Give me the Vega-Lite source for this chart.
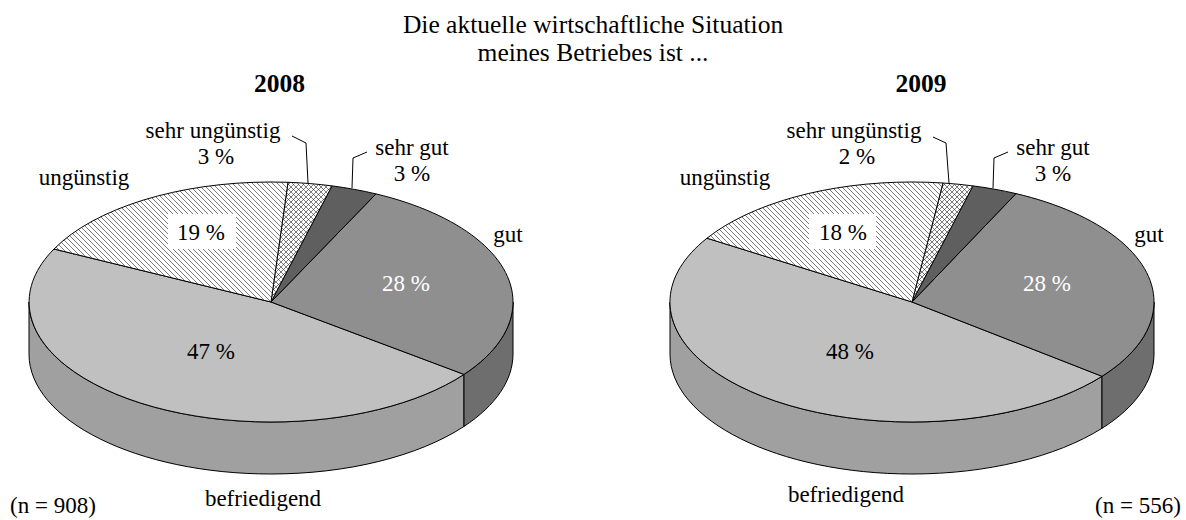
{"$schema":"https://vega.github.io/schema/vega-lite/v6.json","width":1186,"height":520,"padding":0,"autosize":{"type":"fit","contains":"padding"},"background":"white","config":{"view":{"stroke":null},"text":{"font":"Liberation Serif","fontSize":23}},
"datasets":{
"slices":[
{"year":2008,"slice":"befriedigend","percent":47,"id":"2008 befriedigend"},
{"year":2008,"slice":"gut","percent":28,"id":"2008 gut"},
{"year":2008,"slice":"sehr gut","percent":3,"id":"2008 sehr gut"},
{"year":2008,"slice":"sehr ungünstig","percent":3,"id":"2008 sehr ungünstig"},
{"year":2008,"slice":"ungünstig","percent":19,"id":"2008 ungünstig"},
{"year":2009,"slice":"befriedigend","percent":48,"id":"2009 befriedigend"},
{"year":2009,"slice":"gut","percent":28,"id":"2009 gut"},
{"year":2009,"slice":"sehr gut","percent":3,"id":"2009 sehr gut"},
{"year":2009,"slice":"sehr ungünstig","percent":2,"id":"2009 sehr ungünstig"},
{"year":2009,"slice":"ungünstig","percent":18,"id":"2009 ungünstig"}],
"labels":[
{"text":"Die aktuelle wirtschaftliche Situation","x":593,"y":24.5,"kind":"title"},
{"text":"meines Betriebes ist ...","x":593,"y":52.5,"kind":"title"},
{"text":"2008","x":279.5,"y":83.5,"kind":"heading"},
{"text":"2009","x":921,"y":83.5,"kind":"heading"},
{"text":"sehr ungünstig","x":213,"y":131,"kind":"plain"},
{"text":"3 %","x":216,"y":156.5,"kind":"plain"},
{"text":"ungünstig","x":84,"y":178,"kind":"plain"},
{"text":"19 %","x":201,"y":233,"kind":"plain"},
{"text":"sehr gut","x":412,"y":148,"kind":"plain"},
{"text":"3 %","x":412,"y":174,"kind":"plain"},
{"text":"gut","x":508,"y":235,"kind":"plain"},
{"text":"28 %","x":406,"y":284,"kind":"inverse"},
{"text":"47 %","x":211,"y":352,"kind":"plain"},
{"text":"befriedigend","x":263,"y":499,"kind":"plain"},
{"text":"(n = 908)","x":53,"y":506,"kind":"plain"},
{"text":"sehr ungünstig","x":854,"y":131,"kind":"plain"},
{"text":"2 %","x":857,"y":156.5,"kind":"plain"},
{"text":"ungünstig","x":725,"y":178,"kind":"plain"},
{"text":"18 %","x":843,"y":233,"kind":"plain"},
{"text":"sehr gut","x":1053,"y":148,"kind":"plain"},
{"text":"3 %","x":1053,"y":174,"kind":"plain"},
{"text":"gut","x":1149,"y":235,"kind":"plain"},
{"text":"28 %","x":1047,"y":284,"kind":"inverse"},
{"text":"48 %","x":850,"y":352,"kind":"plain"},
{"text":"befriedigend","x":846,"y":495,"kind":"plain"},
{"text":"(n = 556)","x":1138,"y":506,"kind":"plain"}],
"leaders":[
{"leader":"a","step":1,"x":292,"y":136},{"leader":"a","step":2,"x":306,"y":143},{"leader":"a","step":3,"x":308,"y":183},
{"leader":"b","step":1,"x":367,"y":152},{"leader":"b","step":2,"x":353,"y":158},{"leader":"b","step":3,"x":352,"y":188},
{"leader":"c","step":1,"x":933,"y":137},{"leader":"c","step":2,"x":946,"y":143},{"leader":"c","step":3,"x":949,"y":183},
{"leader":"d","step":1,"x":1008,"y":152},{"leader":"d","step":2,"x":994,"y":158},{"leader":"d","step":3,"x":993,"y":188}],
"boxes":[
{"x1":168,"x2":236,"y1":214,"y2":249},
{"x1":809,"x2":876,"y1":214,"y2":249}]
},
"resolve":{"scale":{"x":"independent","y":"independent","shape":"independent","fill":"independent"}},
"layer":[
{"data":{"name":"slices"},"transform":[{"filter":"datum.slice==='gut'||datum.slice==='befriedigend'"}],
"mark":{"type":"point","filled":true,"stroke":"#000","strokeWidth":1,"size":4,"opacity":1},
"encoding":{
"x":{"field":"year","type":"ordinal","axis":null,"scale":{"type":"point","padding":0,"domain":[2008,2009],"range":[271,912]}},
"y":{"field":"year","type":"ordinal","axis":null,"scale":{"type":"point","padding":0,"domain":[2008,2009],"range":[302,302]}},
"fill":{"field":"slice","type":"nominal","legend":null,"scale":{"domain":["gut","befriedigend"],"range":["#6e6e6e","#a0a0a0"]}},
"shape":{"field":"id","type":"nominal","legend":null,"scale":{"domain":["2008 gut","2008 befriedigend","2009 gut","2009 befriedigend"],"range":[
"M193 72.4A242 120 0 0 0 242 0L242 52A242 120 0 0 1 193 124.4Z",
"M193 72.4A242 120 0 0 1 0 120A242 120 0 0 1 -242 0L-242 52A242 120 0 0 0 0 172A242 120 0 0 0 193 124.4Z",
"M190 74.3A242 120 0 0 0 242 0L242 52A242 120 0 0 1 190 126.3Z",
"M190 74.3A242 120 0 0 1 0 120A242 120 0 0 1 -242 0L-242 52A242 120 0 0 0 0 172A242 120 0 0 0 190 126.3Z"]}}}},
{"data":{"name":"slices"},
"mark":{"type":"point","filled":true,"stroke":"#000","strokeWidth":1,"size":4,"opacity":1},
"encoding":{
"x":{"field":"year","type":"ordinal","axis":null,"scale":{"type":"point","padding":0,"domain":[2008,2009],"range":[271,912]}},
"y":{"field":"year","type":"ordinal","axis":null,"scale":{"type":"point","padding":0,"domain":[2008,2009],"range":[302,302]}},
"fill":{"field":"slice","type":"nominal","legend":null,"scale":{"domain":["befriedigend","gut","sehr gut","sehr ungünstig","ungünstig"],"range":["#c0c0c0","#8f8f8f","#5f5f5f","#ffffff","#ffffff"]}},
"shape":{"field":"id","type":"nominal","legend":null,"scale":{"domain":["2008 befriedigend","2008 gut","2008 sehr gut","2008 sehr ungünstig","2008 ungünstig","2009 befriedigend","2009 gut","2009 sehr gut","2009 sehr ungünstig","2009 ungünstig"],"range":[
"M0 0L193 72.4A242 120 0 0 1 0 120A242 120 0 0 1 -217 -53Z",
"M0 0L105 -108.1A242 120 0 0 1 242 0A242 120 0 0 1 193 72.4Z",
"M0 0L61 -116.1A242 120 0 0 1 105 -108.1Z",
"M0 0L17 -119.7A242 120 0 0 1 61 -116.1Z",
"M0 0L-217 -53A242 120 0 0 1 0 -120A242 120 0 0 1 17 -119.7Z",
"M0 0L190 74.3A242 120 0 0 1 0 120A242 120 0 0 1 -205 -63.8Z",
"M0 0L104 -108.4A242 120 0 0 1 242 0A242 120 0 0 1 190 74.3Z",
"M0 0L61 -116.1A242 120 0 0 1 104 -108.4Z",
"M0 0L31 -119A242 120 0 0 1 61 -116.1Z",
"M0 0L-205 -63.8A242 120 0 0 1 0 -120A242 120 0 0 1 31 -119Z"]}}}},
{"data":{"name":"slices"},"transform":[{"filter":"datum.slice==='ungünstig'||datum.slice==='sehr ungünstig'"}],
"mark":{"type":"point","filled":false,"stroke":"#222","strokeWidth":0.6,"size":4,"opacity":1},
"encoding":{
"x":{"field":"year","type":"ordinal","axis":null,"scale":{"type":"point","padding":0,"domain":[2008,2009],"range":[271,912]}},
"y":{"field":"year","type":"ordinal","axis":null,"scale":{"type":"point","padding":0,"domain":[2008,2009],"range":[302,302]}},
"shape":{"field":"id","type":"nominal","legend":null,"scale":{"domain":["2008 ungünstig","2009 ungünstig","2008 sehr ungünstig","2009 sehr ungünstig"],"range":[
"M15.2 -119.8L16.9 -118.1M10.1 -119.9L16.3 -113.8M5.1 -119.9L15.6 -109.4M0 -120L15 -105M-5 -120L14.4 -100.6M-9.9 -119.9L13.8 -96.3M-14.8 -119.8L13.1 -91.9M-19.6 -119.6L12.5 -87.5M-24.4 -119.4L11.9 -83.1M-29.1 -119.1L11.3 -78.8M-33.8 -118.8L10.6 -74.4M-38.4 -118.4L10 -70M-43.1 -118.1L9.4 -65.6M-47.7 -117.7L8.8 -61.3M-52.2 -117.2L8.1 -56.9M-56.7 -116.7L7.5 -52.5M-61.1 -116.1L6.9 -48.1M-65.5 -115.5L6.3 -43.8M-69.9 -114.9L5.6 -39.4M-74.2 -114.2L5 -35M-78.5 -113.5L4.4 -30.6M-82.8 -112.8L3.8 -26.3M-87 -112L3.1 -21.9M-91.2 -111.2L2.5 -17.5M-95.3 -110.3L1.9 -13.1M-99.4 -109.4L1.3 -8.8M-103.5 -108.5L0.6 -4.4M-107.5 -107.5L0 0M-111.5 -106.5L-6.6 -1.6M-115.5 -105.5L-13.2 -3.2M-119.4 -104.4L-19.7 -4.7M-123.3 -103.3L-26.3 -6.3M-127.1 -102.1L-32.9 -7.9M-130.9 -100.9L-39.5 -9.5M-134.7 -99.7L-46 -11M-138.5 -98.5L-52.6 -12.6M-142.1 -97.1L-59.2 -14.2M-145.8 -95.8L-65.8 -15.8M-149.4 -94.4L-72.3 -17.3M-153 -93L-78.9 -18.9M-156.5 -91.5L-85.5 -20.5M-160 -90L-92.1 -22.1M-163.5 -88.5L-98.6 -23.6M-166.9 -86.9L-105.2 -25.2M-170.2 -85.2L-111.8 -26.8M-173.6 -83.6L-118.4 -28.4M-176.9 -81.9L-124.9 -29.9M-180.1 -80.1L-131.5 -31.5M-183.3 -78.3L-138.1 -33.1M-186.5 -76.5L-144.7 -34.7M-189.6 -74.6L-151.2 -36.2M-192.6 -72.6L-157.8 -37.8M-195.6 -70.6L-164.4 -39.4M-198.6 -68.6L-171 -41M-201.5 -66.5L-177.5 -42.5M-204.3 -64.3L-184.1 -44.1M-207.1 -62.1L-190.7 -45.7M-209.8 -59.8L-197.3 -47.3M-212.5 -57.5L-203.8 -48.8M-215 -55L-210.4 -50.4",
"M25.7 -119.3L30 -115M20.5 -119.5L28.9 -111.1M15.2 -119.8L27.9 -107.1M10.1 -119.9L26.9 -103.1M5.1 -119.9L25.8 -99.2M0 -120L24.8 -95.2M-5 -120L23.8 -91.2M-9.9 -119.9L22.7 -87.3M-14.8 -119.8L21.7 -83.3M-19.6 -119.6L20.7 -79.3M-24.4 -119.4L19.6 -75.4M-29.1 -119.1L18.6 -71.4M-33.8 -118.8L17.6 -67.4M-38.4 -118.4L16.5 -63.5M-43.1 -118.1L15.5 -59.5M-47.7 -117.7L14.5 -55.5M-52.2 -117.2L13.4 -51.6M-56.7 -116.7L12.4 -47.6M-61.1 -116.1L11.4 -43.6M-65.5 -115.5L10.3 -39.7M-69.9 -114.9L9.3 -35.7M-74.2 -114.2L8.3 -31.7M-78.5 -113.5L7.2 -27.8M-82.8 -112.8L6.2 -23.8M-87 -112L5.2 -19.8M-91.2 -111.2L4.1 -15.9M-95.3 -110.3L3.1 -11.9M-99.4 -109.4L2.1 -7.9M-103.5 -108.5L1 -4M-107.5 -107.5L0 0M-111.5 -106.5L-7.3 -2.3M-115.5 -105.5L-14.5 -4.5M-119.4 -104.4L-21.8 -6.8M-123.3 -103.3L-29.1 -9.1M-127.1 -102.1L-36.3 -11.3M-130.9 -100.9L-43.6 -13.6M-134.7 -99.7L-50.9 -15.9M-138.5 -98.5L-58.1 -18.1M-142.1 -97.1L-65.4 -20.4M-145.8 -95.8L-72.7 -22.7M-149.4 -94.4L-79.9 -24.9M-153 -93L-87.2 -27.2M-156.5 -91.5L-94.5 -29.5M-160 -90L-101.7 -31.7M-163.5 -88.5L-109 -34M-166.9 -86.9L-116.3 -36.3M-170.2 -85.2L-123.5 -38.5M-173.6 -83.6L-130.8 -40.8M-176.9 -81.9L-138.1 -43.1M-180.1 -80.1L-145.4 -45.4M-183.3 -78.3L-152.6 -47.6M-186.5 -76.5L-159.9 -49.9M-189.6 -74.6L-167.2 -52.2M-192.6 -72.6L-174.4 -54.4M-195.6 -70.6L-181.7 -56.7M-198.6 -68.6L-189 -59M-201.5 -66.5L-196.2 -61.2",
"M1.3 -8.8L3.5 -6.6M1.9 -13.1L5.2 -9.8M2.5 -17.5L6.9 -13.1M3.1 -21.9L8.6 -16.4M3.8 -26.3L10.4 -19.7M4.4 -30.6L12.1 -22.9M5 -35L13.8 -26.2M5.6 -39.4L15.5 -29.5M6.3 -43.8L17.3 -32.8M6.9 -48.1L19 -36M7.5 -52.5L20.7 -39.3M8.1 -56.9L22.4 -42.6M8.8 -61.3L24.2 -45.9M9.4 -65.6L25.9 -49.1M10 -70L27.6 -52.4M10.6 -74.4L29.3 -55.7M11.3 -78.8L31.1 -59M11.9 -83.1L32.8 -62.2M12.5 -87.5L34.5 -65.5M13.1 -91.9L36.2 -68.8M13.8 -96.3L38 -72.1M14.4 -100.6L39.7 -75.3M15 -105L41.4 -78.6M15.6 -109.4L43.1 -81.9M16.3 -113.8L44.9 -85.2M16.9 -118.1L46.6 -88.4M20.5 -119.5L48.3 -91.7M25.7 -119.3L50 -95M31 -119L51.8 -98.3M36.4 -118.6L53.5 -101.5M41.8 -118.2L55.2 -104.8M47.4 -117.6L56.9 -108.1M52.9 -117.1L58.7 -111.4M58.6 -116.4L60.4 -114.6M0.8 -5.8L5.6 -10.6M1.7 -11.7L11.1 -21.1M2.5 -17.5L16.7 -31.7M3.3 -23.3L22.2 -42.2M4.2 -29.2L27.8 -52.8M5 -35L33.3 -63.3M5.8 -40.8L38.9 -73.9M6.7 -46.7L44.4 -84.4M7.5 -52.5L50 -95M8.3 -58.3L55.5 -105.5M9.2 -64.2L61 -116M10 -70L56.4 -116.4M10.8 -75.8L51.7 -116.7M11.7 -81.7L47 -117M12.5 -87.5L42.3 -117.3M13.3 -93.3L37.6 -117.6M14.2 -99.2L33 -118M15 -105L28.3 -118.3M15.8 -110.8L23.6 -118.6M16.7 -116.7L18.9 -118.9",
"M2.1 -7.9L3.5 -6.6M3.1 -11.9L5.2 -9.8M4.1 -15.9L6.9 -13.1M5.2 -19.8L8.6 -16.4M6.2 -23.8L10.4 -19.7M7.2 -27.8L12.1 -22.9M8.3 -31.7L13.8 -26.2M9.3 -35.7L15.5 -29.5M10.3 -39.7L17.3 -32.8M11.4 -43.6L19 -36M12.4 -47.6L20.7 -39.3M13.4 -51.6L22.4 -42.6M14.5 -55.5L24.2 -45.9M15.5 -59.5L25.9 -49.1M16.5 -63.5L27.6 -52.4M17.6 -67.4L29.3 -55.7M18.6 -71.4L31.1 -59M19.6 -75.4L32.8 -62.2M20.7 -79.3L34.5 -65.5M21.7 -83.3L36.2 -68.8M22.7 -87.3L38 -72.1M23.8 -91.2L39.7 -75.3M24.8 -95.2L41.4 -78.6M25.8 -99.2L43.1 -81.9M26.9 -103.1L44.9 -85.2M27.9 -107.1L46.6 -88.4M28.9 -111.1L48.3 -91.7M30 -115L50 -95M31 -119L51.8 -98.3M36.4 -118.6L53.5 -101.5M41.8 -118.2L55.2 -104.8M47.4 -117.6L56.9 -108.1M52.9 -117.1L58.7 -111.4M58.6 -116.4L60.4 -114.6M1.8 -6.8L5.6 -10.6M3.5 -13.5L11.1 -21.1M5.3 -20.3L16.7 -31.7M7 -27L22.2 -42.2M8.8 -33.8L27.8 -52.8M10.6 -40.6L33.3 -63.3M12.3 -47.3L38.9 -73.9M14.1 -54.1L44.4 -84.4M15.8 -60.8L50 -95M17.6 -67.6L55.5 -105.5M19.4 -74.4L61 -116M21.1 -81.1L56.4 -116.4M22.9 -87.9L51.7 -116.7M24.6 -94.6L47 -117M26.4 -101.4L42.3 -117.3M28.2 -108.2L37.6 -117.6M29.9 -114.9L33 -118"]}}}},
{"data":{"name":"boxes"},"mark":{"type":"rect","fill":"white","stroke":null},
"encoding":{
"x":{"field":"x1","type":"quantitative","axis":null,"scale":{"domain":[0,1186],"nice":false,"zero":false}},
"x2":{"field":"x2"},
"y":{"field":"y1","type":"quantitative","axis":null,"scale":{"domain":[520,0],"nice":false,"zero":false}},
"y2":{"field":"y2"}}},
{"data":{"name":"leaders"},"mark":{"type":"line","stroke":"#000","strokeWidth":1,"interpolate":"linear"},
"encoding":{
"x":{"field":"x","type":"quantitative","axis":null,"scale":{"domain":[0,1186],"nice":false,"zero":false}},
"y":{"field":"y","type":"quantitative","axis":null,"scale":{"domain":[520,0],"nice":false,"zero":false}},
"detail":{"field":"leader"},
"order":{"field":"step","type":"quantitative"}}},
{"data":{"name":"labels"},"transform":[{"filter":"datum.kind==='plain'||datum.kind==='inverse'"}],"mark":{"type":"text","font":"Liberation Serif","fontSize":23,"baseline":"middle","align":"center"},
"encoding":{
"x":{"field":"x","type":"quantitative","axis":null,"scale":{"domain":[0,1186],"nice":false,"zero":false}},
"y":{"field":"y","type":"quantitative","axis":null,"scale":{"domain":[520,0],"nice":false,"zero":false}},
"text":{"field":"text"},
"color":{"condition":{"test":"datum.kind==='inverse'","value":"#ffffff"},"value":"#000000"}}},
{"data":{"name":"labels"},"transform":[{"filter":"datum.kind==='title'"}],"mark":{"type":"text","font":"Liberation Serif","fontSize":25.5,"baseline":"middle","align":"center","color":"#000"},
"encoding":{
"x":{"field":"x","type":"quantitative","axis":null,"scale":{"domain":[0,1186],"nice":false,"zero":false}},
"y":{"field":"y","type":"quantitative","axis":null,"scale":{"domain":[520,0],"nice":false,"zero":false}},
"text":{"field":"text"}}},
{"data":{"name":"labels"},"transform":[{"filter":"datum.kind==='heading'"}],"mark":{"type":"text","font":"Liberation Serif","fontSize":25.5,"fontWeight":"bold","baseline":"middle","align":"center","color":"#000"},
"encoding":{
"x":{"field":"x","type":"quantitative","axis":null,"scale":{"domain":[0,1186],"nice":false,"zero":false}},
"y":{"field":"y","type":"quantitative","axis":null,"scale":{"domain":[520,0],"nice":false,"zero":false}},
"text":{"field":"text"}}}
]}
